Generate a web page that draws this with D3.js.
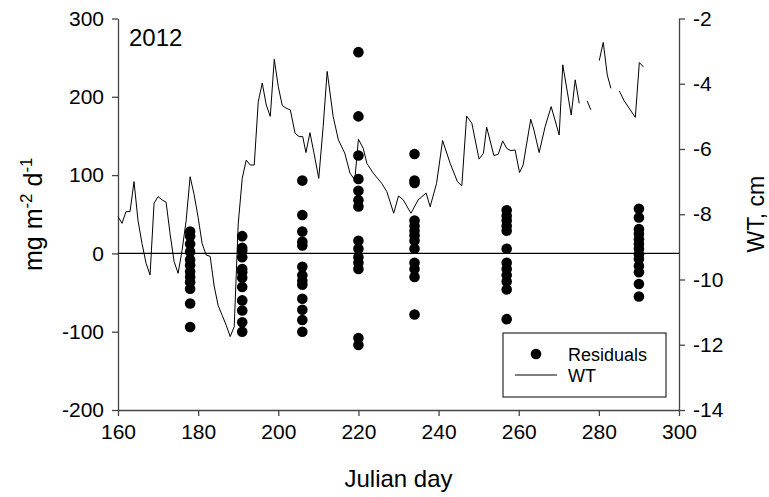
<!DOCTYPE html>
<html>
<head>
<meta charset="utf-8">
<script src="https://cdn.jsdelivr.net/npm/d3@7"></script>
<style>
    body { margin: 0; background: #fff; }
    text { font-family: "Liberation Sans", Arial, sans-serif; fill: #000; }
</style>
</head>
<body>
<div class="canvas"></div>
<script>
// residual sampling days and values at each day
const residualDays = [178, 191, 206, 220, 234, 257, 290];
const residualValues = [
    [28, 22, 12, 2, -8, -15, -23, -30, -37, -45, -64, -94],
    [22, 7, 3, -5, -20, -24, -31, -43, -60, -73, -88, -100],
    [93, 49, 28, 15, 10, -17, -28, -35, -40, -58, -72, -85, -100],
    [257, 175, 125, 95, 80, 68, 60, 16, 6, -5, -12, -20, -108, -117],
    [127, 93, 90, 42, 35, 29, 23, 16, 6, -12, -20, -30, -78],
    [55, 48, 42, 35, 29, 6, -12, -20, -28, -36, -46, -84],
    [57, 46, 31, 25, 18, 12, 6, -1, -7, -16, -24, -39, -55]
];

// water table (null = no reading)
const wtDays = [160, 161, 162, 163, 164, 165, 166, 167, 168, 169, 170, 171, 172, 173, 174, 175,
    176, 177, 178, 179, 180, 181, 182, 183, 184, 185, 186, 187, 188, 189, 190, 191, 192, 193,
    194, 195, 196, 197, 198, 199, 200, 201, 202, 203, 204.2, 205.2, 206.1, 206.9, 207.9, 208.9,
    210.1, 211.2, 212.2, 213.7, 215, 216.6, 217.9, 219.1, 220, 221.2, 222.1, 223.7, 225.8, 227.1,
    228.8, 230, 231.2, 233.1, 234.9, 236.9, 237.9, 239.5, 241, 242.9, 244.7, 245.8, 247, 248.3,
    250.1, 251.2, 252, 253.8, 254.9, 256, 257, 258, 259.1, 260.2, 261.1, 263, 263.8, 265.1, 266.6,
    268.1, 270.1, 271, 273.1, 274.1, 275.1, 276, 277.1, 278, 279, 280.1, 281.1, 282.1, 283, 284,
    285.1, 286.3, 289.1, 290.1, 291.1];
const wtValues = [-8.07, -8.28, -7.92, -7.92, -7.0, -8.2, -8.9, -9.5, -9.86, -7.66, -7.46, -7.56,
    -7.63, -8.6, -9.45, -9.81, -9.1, -8.2, -6.85, -7.4, -8.1, -8.9, -9.25, -9.29, -10.2, -10.8,
    -11.1, -11.4, -11.75, -11.45, -8.3, -6.9, -6.34, -6.49, -6.49, -4.55, -3.98, -4.65, -5.0, -3.25,
    -4.09, -4.67, -4.75, -4.8, -5.52, -5.62, -5.62, -6.11, -5.5, -6.12, -6.9, -5.31, -3.62, -5.01,
    -5.72, -6.13, -6.74, -6.95, -5.7, -5.98, -6.44, -6.74, -7.05, -7.31, -7.97, -7.44, -7.56, -7.97,
    -7.56, -7.35, -7.77, -7.05, -5.74, -6.44, -7.0, -7.13, -4.99, -5.21, -6.31, -6.13, -5.33, -6.2,
    -6.16, -5.75, -5.98, -6.05, -6.03, -6.72, -6.49, -5.09, -5.42, -6.11, -5.31, -4.7, -5.57, -3.42,
    -4.96, -3.88, -4.6, null, -4.53, -4.8, null, -3.29, -2.73, -3.73, -4.14, null, -4.22, -4.52,
    -5.03, -3.35, -3.48];

const xTicks = [160, 180, 200, 220, 240, 260, 280, 300];
const yTicks = [-200, -100, 0, 100, 200, 300];
const wtTicks = [-14, -12, -10, -8, -6, -4, -2];

const width = 769;
const height = 497;
const margin = { top: 18.5, right: 90, bottom: 87, left: 118 };
const graphWidth = width - margin.left - margin.right;
const graphHeight = height - margin.top - margin.bottom;

const svg = d3.select('.canvas')
    .append('svg')
    .attr('width', width)
    .attr('height', height);

const graph = svg.append('g')
    .attr('transform', `translate(${margin.left}, ${margin.top})`);

const x = d3.scaleLinear().domain([160, 300]).range([0, graphWidth]);
const y = d3.scaleLinear().domain([-200, 300]).range([graphHeight, 0]);
const y2 = d3.scaleLinear().domain([-14, -2]).range([graphHeight, 0]);

// axes (plain hyphen for negatives, like the original)
const axisColor = '#444';
const fmt = d => String(d);
const styleAxis = g => {
    g.selectAll('.domain').attr('stroke', axisColor).attr('stroke-width', 1.3);
    g.selectAll('.tick line').attr('stroke', axisColor).attr('stroke-width', 1.3);
    g.selectAll('.tick text').attr('font-size', 21).attr('fill', '#000')
        .attr('font-family', '"Liberation Sans", Arial, sans-serif');
};

graph.append('g')
    .attr('transform', `translate(0, ${graphHeight})`)
    .call(d3.axisBottom(x).tickValues(xTicks).tickFormat(fmt).tickSize(6).tickPadding(8).tickSizeOuter(0))
    .call(styleAxis);

graph.append('g')
    .call(d3.axisLeft(y).tickValues(yTicks).tickFormat(fmt).tickSize(6).tickPadding(8).tickSizeOuter(0))
    .call(styleAxis);

graph.append('g')
    .attr('transform', `translate(${graphWidth}, 0)`)
    .call(d3.axisRight(y2).tickValues(wtTicks).tickFormat(fmt).tickSize(6).tickPadding(8).tickSizeOuter(0))
    .call(styleAxis);

// zero line
graph.append('line')
    .attr('x1', 0).attr('x2', graphWidth)
    .attr('y1', y(0)).attr('y2', y(0))
    .attr('stroke', '#000').attr('stroke-width', 1.2);

// WT line
const wt = wtDays.map((d, i) => ({ day: d, v: wtValues[i] }));
const line = d3.line()
    .defined(d => d.v != null)
    .x(d => x(d.day))
    .y(d => y2(d.v));

graph.append('path')
    .datum(wt)
    .attr('fill', 'none')
    .attr('stroke', '#000')
    .attr('stroke-width', 1)
    .attr('d', line);

// residual dots
const residuals = residualDays.flatMap((d, i) => residualValues[i].map(v => ({ day: d, v })));
graph.selectAll('circle.res')
    .data(residuals)
    .enter()
    .append('circle')
    .attr('class', 'res')
    .attr('cx', d => x(d.day))
    .attr('cy', d => y(d.v))
    .attr('r', 5.3)
    .attr('fill', '#000');

// year label
graph.append('text')
    .attr('x', 11).attr('y', 27)
    .attr('font-size', 24)
    .text('2012');

// legend
const legend = svg.append('g').attr('transform', 'translate(503, 333)');
legend.append('rect')
    .attr('width', 163).attr('height', 64)
    .attr('fill', '#fff').attr('stroke', '#000').attr('stroke-width', 1);
legend.append('circle').attr('cx', 33).attr('cy', 21).attr('r', 5.3).attr('fill', '#000');
legend.append('line').attr('x1', 12).attr('x2', 54).attr('y1', 42).attr('y2', 42)
    .attr('stroke', '#000').attr('stroke-width', 1);
legend.append('text').attr('x', 65).attr('y', 28).attr('font-size', 18).text('Residuals');
legend.append('text').attr('x', 65).attr('y', 49).attr('font-size', 18).text('WT');

// axis titles
svg.append('text')
    .attr('x', margin.left + graphWidth / 2).attr('y', 487)
    .attr('text-anchor', 'middle')
    .attr('font-size', 24)
    .text('Julian day');

const yTitle = svg.append('text')
    .attr('transform', `translate(42, ${margin.top + graphHeight / 2}) rotate(-90)`)
    .attr('text-anchor', 'middle')
    .attr('font-size', 25);
yTitle.append('tspan').text('mg m');
yTitle.append('tspan').attr('font-size', 17).attr('dy', -10).text('-2');
yTitle.append('tspan').attr('dy', 10).text(' d');
yTitle.append('tspan').attr('font-size', 17).attr('dy', -10).text('-1');

svg.append('text')
    .attr('transform', `translate(764, ${margin.top + graphHeight / 2}) rotate(-90)`)
    .attr('text-anchor', 'middle')
    .attr('font-size', 23)
    .text('WT, cm');
</script>
</body>
</html>
